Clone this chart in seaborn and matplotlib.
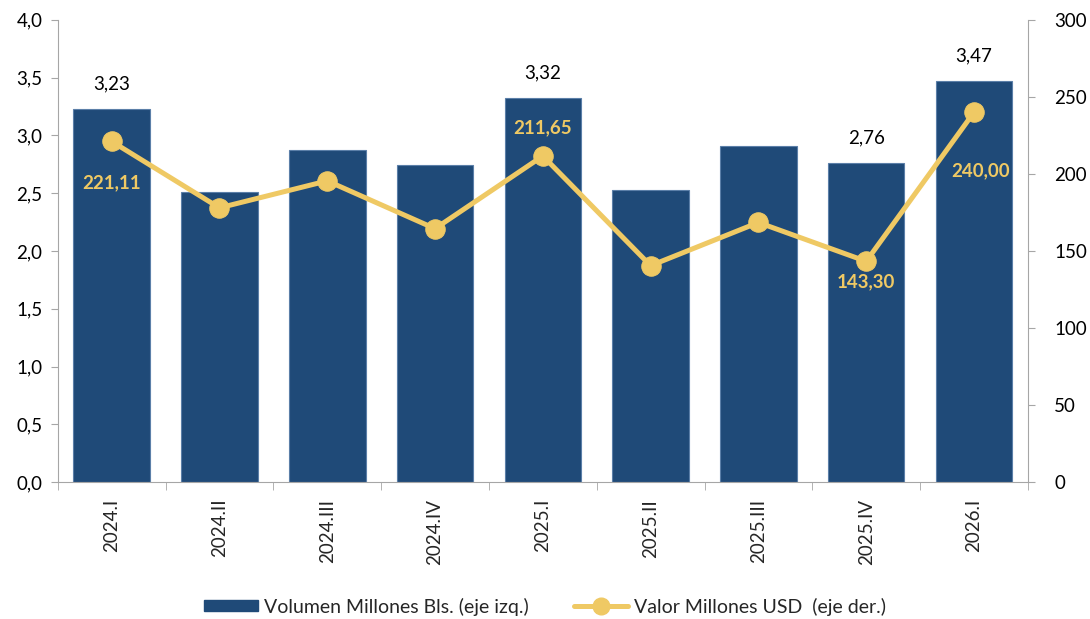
import numpy as np
import pandas as pd
import matplotlib
matplotlib.use('Agg')
import matplotlib.pyplot as plt
import seaborn as sns
from matplotlib.lines import Line2D
from matplotlib.patches import Patch

periodos = ['2024.I', '2024.II', '2024.III', '2024.IV', '2025.I',
            '2025.II', '2025.III', '2025.IV', '2026.I']
volumen = [3.23, 2.51, 2.87, 2.74, 3.32, 2.53, 2.91, 2.76, 3.47]
valor = [221.11, 178.0, 195.5, 164.5, 211.65, 140.5, 168.5, 143.30, 240.00]

# etiquetas visibles solo en algunos periodos
etiq_vol = ['2024.I', '2025.I', '2025.IV', '2026.I']
etiq_val = {'2024.I': (0, -30), '2025.I': (0, 20), '2025.IV': (0, -15), '2026.I': (5, -42)}

azul = '#1F4A78'
oro = '#EFC964'
gris = '#A6A6A6'

sns.set_style('white')
plt.rcParams['font.family'] = ['Lato', 'DejaVu Sans']

df = pd.DataFrame({'periodo': periodos, 'volumen': volumen, 'valor': valor})

fig = plt.figure(figsize=(10.9, 6.19), dpi=100)
ax = fig.add_axes([0.053, 0.221, 0.89, 0.747])
sns.barplot(data=df, x='periodo', y='volumen', color=azul, width=0.71,
            edgecolor='#5B7FA8', linewidth=0.8, saturation=1, ax=ax)
ax.set_ylim(0, 4.0)
ax.set_xlim(-0.5, len(periodos) - 0.5)
ax.set_yticks(np.arange(0, 4.01, 0.5))
ax.set_yticklabels([f'{v:.1f}'.replace('.', ',') for v in np.arange(0, 4.01, 0.5)])
ax.set_xlabel('')
ax.set_ylabel('')

ax2 = ax.twinx()
sns.lineplot(data=df, x='periodo', y='valor', color=oro, linewidth=3.6,
             marker='o', markersize=14, markeredgecolor=oro, ax=ax2)
ax2.set_ylim(0, 300)
ax2.set_yticks(range(0, 301, 50))
ax2.set_ylabel('')

for i, p in enumerate(periodos):
    if p in etiq_vol:
        ax.annotate(f'{volumen[i]:.2f}'.replace('.', ','), (i, volumen[i]),
                    xytext=(0, 12), textcoords='offset points',
                    ha='center', va='bottom', fontsize=13.5, color='black')
    if p in etiq_val:
        dx, dy = etiq_val[p]
        ax2.annotate(f'{valor[i]:.2f}'.replace('.', ','), (i, valor[i]),
                     xytext=(dx, dy), textcoords='offset points',
                     ha='center', va='center', fontsize=13.5, color=oro,
                     fontweight='bold')

# ejes
for a in (ax, ax2):
    for s in a.spines.values():
        s.set_visible(False)
    a.tick_params(axis='y', length=5, color=gris, labelsize=13.5, labelcolor='black')
ax.spines['left'].set_visible(True)
ax.spines['left'].set_color(gris)
ax.spines['bottom'].set_visible(True)
ax.spines['bottom'].set_color(gris)
ax2.spines['right'].set_visible(True)
ax2.spines['right'].set_color(gris)
ax.tick_params(axis='y', left=True, pad=6)
ax2.tick_params(axis='y', right=True, pad=14)

ax.set_xticks(range(len(periodos)))
ax.set_xticklabels(periodos, rotation=90, fontsize=13.5)
ax.tick_params(axis='x', which='major', length=0, pad=12)
ax.set_xticks(np.arange(-0.5, len(periodos), 1), minor=True)
ax.tick_params(axis='x', which='minor', bottom=True, length=6, color=gris)
ax.set_zorder(ax2.get_zorder() - 1)
ax2.patch.set_visible(False)
if ax2.get_legend():
    ax2.get_legend().remove()

handles = [Patch(facecolor=azul, edgecolor=azul),
           Line2D([0], [0], color=oro, linewidth=3.6, marker='o', markersize=12)]
labels = ['Volumen Millones Bls. (eje izq.)', 'Valor Millones USD  (eje der.)']
fig.legend(handles, labels, loc='center', bbox_to_anchor=(0.5, 0.02), ncol=2,
           frameon=False, fontsize=14, columnspacing=2.3, handlelength=2.8,
           handleheight=0.5, handletextpad=0.3)

fig.savefig('out.png', dpi=100)
